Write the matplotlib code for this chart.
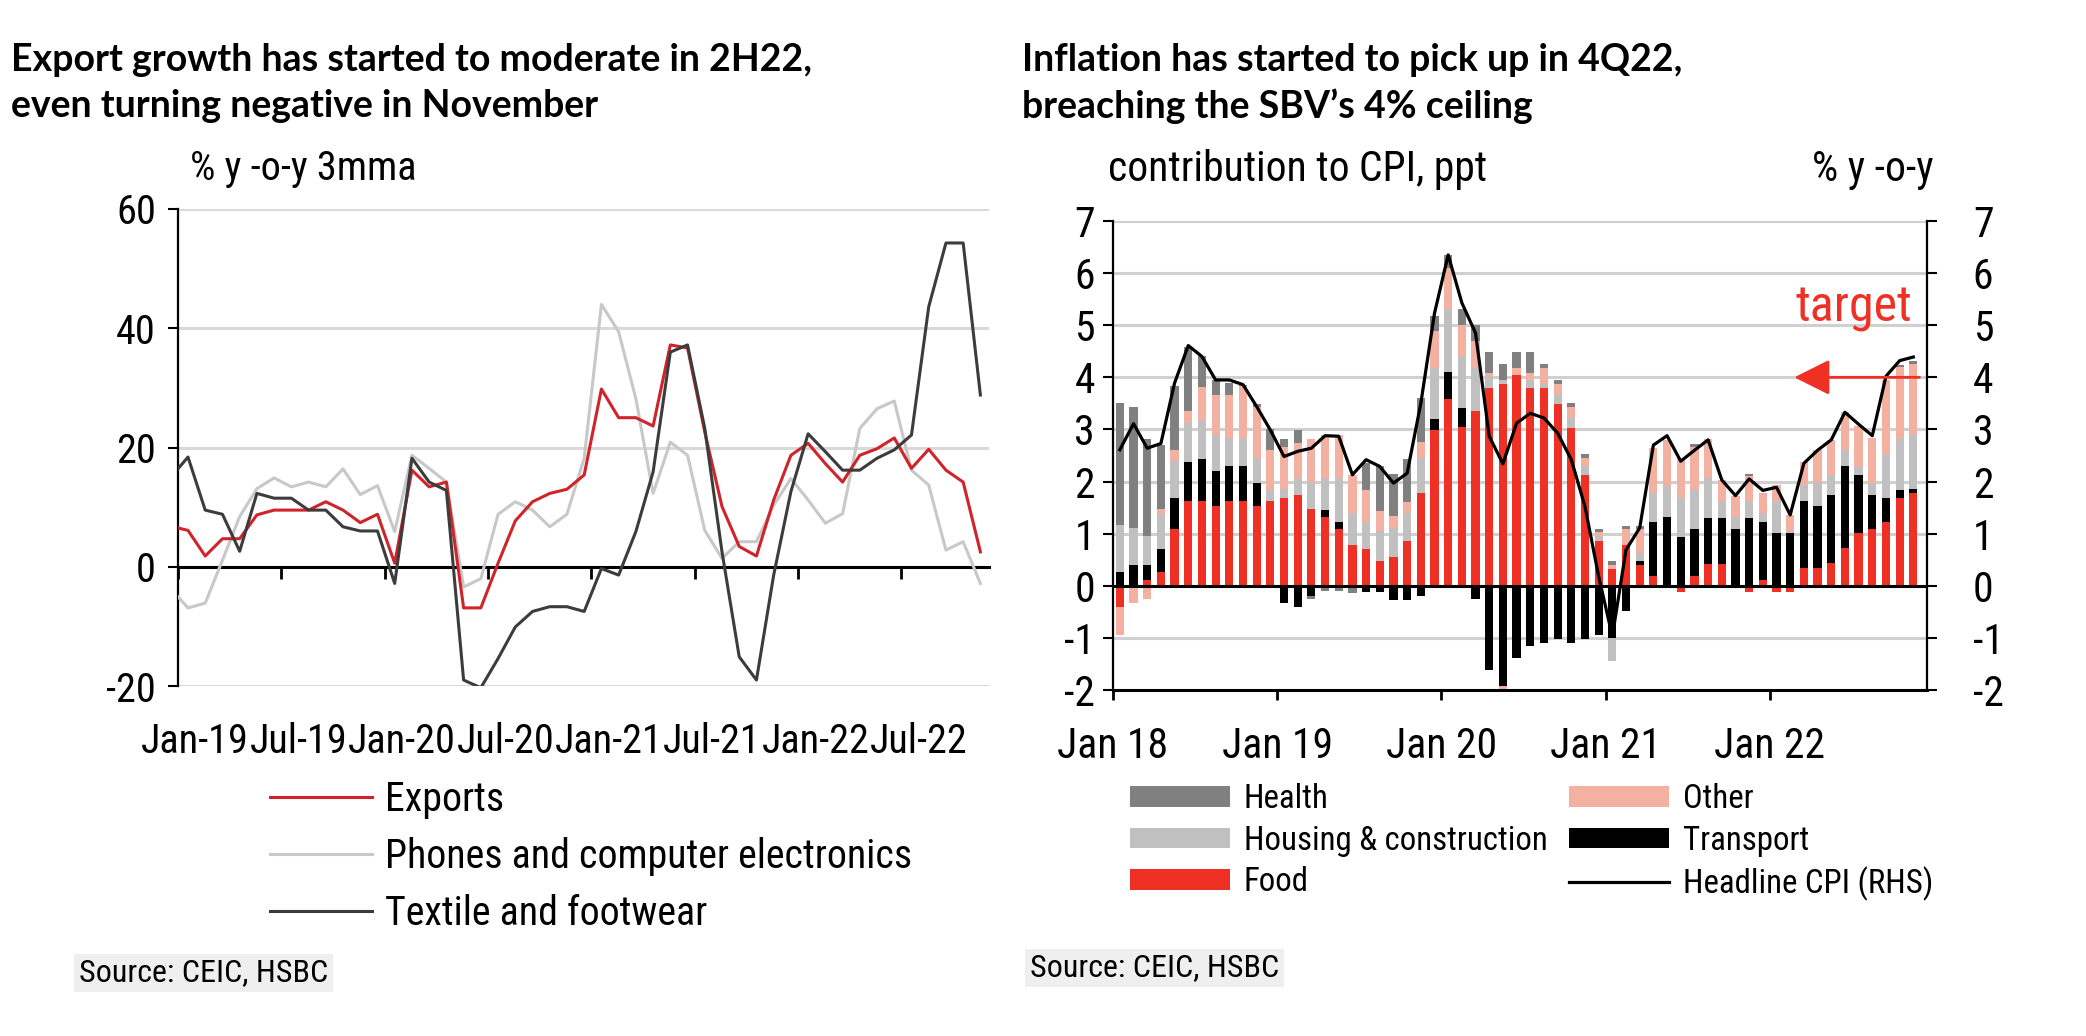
import numpy as np
import matplotlib
matplotlib.use("Agg")
import matplotlib.pyplot as plt
from matplotlib import font_manager as fm

# fonts: an Arial Narrow look-alike if one is installed, else Liberation Sans a bit smaller
avail = {f.name for f in fm.fontManager.ttflist}
NARROW, K = "Liberation Sans", 0.83
for name in ["Liberation Sans Narrow", "Arial Narrow", "Roboto Condensed"]:
    if name in avail:
        NARROW, K = name, 1.0
        break
TITLE = "Lato" if "Lato" in avail else "DejaVu Sans"
plt.rcParams["font.family"] = [NARROW, "DejaVu Sans"]
plt.rcParams["axes.unicode_minus"] = False

# ---- left chart data: % y-o-y 3mma, monthly ----
exp_labels = ["Jan-19", "Jul-19", "Jan-20", "Jul-20", "Jan-21", "Jul-21", "Jan-22", "Jul-22"]
exports = [6.8, 6.1, 1.8, 4.7, 4.7, 8.7, 9.5, 9.5, 9.5, 10.9, 9.5, 7.4, 8.8, 0.6, 16.2, 13.4,
           14.2, -6.9, -6.9, 0.6, 7.7, 10.9, 12.3, 13.0, 15.4, 29.8, 25.0, 25.0, 23.6, 37.2, 36.7, 22.6,
           10.1, 3.4, 1.8, 11.2, 18.7, 20.7, 17.3, 14.2, 18.7, 19.8, 21.6, 16.5, 19.7, 16.2, 14.2, 2.5]
phones = [-3.7, -6.9, -6.1, 1.1, 8.4, 13.1, 14.9, 13.4, 14.2, 13.4, 16.4, 12.1, 13.6, 5.9, 18.7, 16.5,
          14.2, -3.4, -2.0, 8.8, 10.9, 9.5, 6.7, 8.8, 18.2, 44.0, 39.4, 28.2, 12.3, 20.9, 18.7, 6.1,
          1.4, 4.2, 4.2, 10.3, 14.8, 11.2, 7.3, 8.9, 23.2, 26.5, 27.8, 16.2, 13.7, 2.8, 4.2, -2.8]
textile = [15.0, 18.4, 9.5, 8.8, 2.6, 12.3, 11.5, 11.5, 9.5, 9.5, 6.7, 6.0, 6.0, -2.8, 18.2, 14.2,
           12.8, -19.0, -20.3, -15.4, -10.1, -7.5, -6.7, -6.7, -7.5, -0.3, -1.4, 5.9, 15.9, 36.0, 37.2, 23.2,
           2.5, -15.1, -19.0, -1.4, 12.6, 22.3, 19.3, 16.2, 16.2, 18.2, 19.6, 22.1, 43.6, 54.3, 54.3, 28.8]

# ---- right chart data: contribution to CPI (ppt), Jan 18 - Nov 22 ----
cpi_labels = ["Jan 18", "Jan 19", "Jan 20", "Jan 21", "Jan 22"]
food = [-0.41, 0.0, 0.12, 0.26, 1.09, 1.62, 1.62, 1.54, 1.62, 1.62,
        1.54, 1.62, 1.68, 1.75, 1.47, 1.32, 1.09, 0.79, 0.70, 0.48,
        0.56, 0.85, 1.78, 2.98, 3.58, 3.05, 3.35, 3.79, 3.88, 4.04,
        3.79, 3.79, 3.49, 3.03, 2.13, 0.85, 0.32, 0.79, 0.40, 0.18,
        0.0, -0.11, 0.18, 0.42, 0.42, 0.0, -0.11, 0.12, -0.11, -0.11,
        0.34, 0.34, 0.44, 0.72, 1.02, 1.09, 1.23, 1.68, 1.78]
transport = [0.26, 0.40, 0.28, 0.44, 0.59, 0.75, 0.82, 0.67, 0.67, 0.67,
             0.44, 0.0, -0.33, -0.41, -0.20, 0.14, 0.14, -0.05, -0.11, -0.11,
             -0.27, -0.27, -0.19, 0.22, 0.53, 0.37, -0.26, -1.62, -1.92, -1.39,
             -1.16, -1.09, -1.02, -1.10, -1.02, -0.94, -1.00, -0.49, 0.08, 1.05,
             1.32, 0.93, 0.91, 0.88, 0.88, 1.09, 1.30, 1.10, 1.01, 1.01,
             1.28, 1.20, 1.31, 1.57, 1.11, 0.66, 0.45, 0.16, 0.08]
housing = [0.91, 0.71, 0.56, 0.68, 0.71, 0.75, 0.75, 0.69, 0.54, 0.54,
           0.47, 0.22, 0.18, 0.32, 0.53, 0.61, 0.84, 0.60, 0.53, 0.57,
           0.55, 0.54, 0.68, 0.98, 1.20, 0.98, 0.83, 0.23, 0.07, 0.0,
           0.16, 0.09, 0.18, 0.19, 0.16, 0.11, -0.45, 0.0, 0.15, 0.55,
           0.60, 0.75, 0.75, 0.77, 0.32, 0.23, 0.32, 0.17, 0.61, 0.05,
           0.32, 0.46, 0.38, 0.31, 0.15, 0.23, 0.85, 0.98, 1.04]
other = [-0.53, -0.33, -0.26, 0.09, 0.21, 0.23, 0.62, 0.77, 0.84, 1.00,
         0.99, 0.76, 0.81, 0.67, 0.82, 0.83, 0.83, 0.74, 0.61, 0.38,
         0.22, 0.21, 0.30, 0.70, 0.79, 0.61, 0.51, 0.07, -0.08, 0.14,
         0.14, 0.30, 0.21, 0.21, 0.16, 0.08, 0.08, 0.30, 0.45, 0.86,
         0.88, 0.77, 0.83, 0.75, 0.41, 0.41, 0.48, 0.39, 0.32, 0.30,
         0.43, 0.60, 0.67, 0.73, 0.78, 0.85, 1.42, 1.38, 1.36]
health = [2.34, 2.32, 1.86, 1.24, 1.23, 1.24, 0.59, 0.28, 0.22, 0.03,
          0.05, 0.40, 0.15, 0.24, -0.06, -0.10, -0.10, -0.08, 0.51, 0.87,
          0.82, 0.83, 0.85, 0.29, 0.25, 0.30, 0.32, 0.39, 0.31, 0.30,
          0.39, 0.08, 0.07, 0.08, 0.08, 0.05, 0.07, 0.06, 0.06, 0.0,
          0.0, 0.0, 0.05, 0.0, 0.0, 0.0, 0.04, 0.0, 0.0, 0.0,
          0.0, 0.0, 0.0, 0.0, 0.0, 0.0, 0.0, 0.04, 0.05]
cpi = [2.61, 3.11, 2.64, 2.73, 3.89, 4.61, 4.40, 3.95, 3.95, 3.86,
       3.44, 2.99, 2.48, 2.58, 2.64, 2.88, 2.87, 2.13, 2.42, 2.29,
       1.97, 2.16, 3.50, 5.23, 6.35, 5.43, 4.85, 2.87, 2.34, 3.12,
       3.31, 3.22, 2.93, 2.42, 1.52, 0.18, -0.97, 0.69, 1.11, 2.70,
       2.88, 2.39, 2.60, 2.80, 2.03, 1.73, 2.05, 1.83, 1.89, 1.36,
       2.35, 2.60, 2.80, 3.33, 3.10, 2.88, 4.02, 4.32, 4.39]

RED = "#ee3124"
W, H = 2086, 1036
fig = plt.figure(figsize=(W / 100, H / 100), dpi=100)


def fx(px):
    return px / W


def fy(py):
    return 1 - py / H


def pt2px(size):
    return size * 100 / 72


# ================= left chart =================
ax1 = fig.add_axes([fx(178), fy(686), (989 - 178) / W, (686 - 209) / H])
xm = np.arange(len(exports))
l_ph, = ax1.plot(xm, phones, color="#c8c8c8", lw=2.2, zorder=3)
l_exp, = ax1.plot(xm, exports, color="#d0232a", lw=2.2, zorder=3.1)
l_tx, = ax1.plot(xm, textile, color="#3c3c3c", lw=2.2, zorder=3.2)
ax1.set_xlim(0.42, 47.5)
ax1.set_ylim(-20, 60)
ax1.set_yticks([-20, 0, 20, 40, 60])
ax1.yaxis.grid(True, color="#d9d9d9", lw=2.2)
ax1.set_axisbelow(True)
ticks = 0.42 + 6 * np.arange(len(exp_labels))
ax1.set_xticks(ticks, minor=True)
ax1.set_xticks(ticks + 1.0)
ax1.set_xticklabels(exp_labels)
ax1.tick_params(axis="x", which="major", length=0, pad=112, labelsize=29 * K)
ax1.tick_params(axis="x", which="minor", length=8.5, width=2, direction="out", color="k")
ax1.tick_params(axis="y", length=7, width=1.5, pad=9, color="k", labelsize=29 * K)
for s in ["top", "right"]:
    ax1.spines[s].set_visible(False)
ax1.spines["bottom"].set_position(("data", 0))
ax1.spines["bottom"].set_linewidth(2.2)
ax1.spines["left"].set_linewidth(1.6)

fs1 = 28.7 * K
ax1.legend([l_exp, l_ph, l_tx], ["Exports", "Phones and computer electronics", "Textile and footwear"],
           loc="upper left", bbox_to_anchor=(fx(270), fy(780)), bbox_transform=fig.transFigure,
           frameon=False, fontsize=fs1, handlelength=102 / pt2px(fs1),
           handletextpad=13 / pt2px(fs1), labelspacing=0.45, borderpad=0, borderaxespad=0)

fig.text(fx(11), fy(60), "Export growth has started to moderate in 2H22,", family=TITLE,
         fontweight="bold", fontsize=27, va="center", ha="left")
fig.text(fx(11), fy(106), "even turning negative in November", family=TITLE,
         fontweight="bold", fontsize=27, va="center", ha="left")
fig.text(fx(190), fy(168), "% y -o-y 3mma", fontsize=29 * K, va="center", ha="left")
fig.text(fx(79), fy(973), "Source: CEIC, HSBC", fontsize=23 * K, va="center", ha="left",
         bbox=dict(boxstyle="square,pad=0.15", fc="#efefef", ec="none"))

# ================= right chart =================
ax2 = fig.add_axes([fx(1113), fy(690), 814 / W, 469 / H])
xb = np.arange(len(food)) + 0.5
pos_b = np.zeros(len(food))
neg_b = np.zeros(len(food))
bars = {}
for name, vals, col in [("Food", food, RED), ("Transport", transport, "#000000"),
                        ("Housing & construction", housing, "#c0c0c0"),
                        ("Other", other, "#f4b1a1"), ("Health", health, "#808080")]:
    v = np.array(vals)
    pos = np.where(v > 0, v, 0)
    neg = np.where(v < 0, v, 0)
    bars[name] = ax2.bar(xb, pos, 0.6, bottom=pos_b, color=col, zorder=2, linewidth=0)
    ax2.bar(xb, neg, 0.6, bottom=neg_b, color=col, zorder=2, linewidth=0)
    pos_b += pos
    neg_b += neg

ax2.set_xlim(0, 59.5)
ax2.set_ylim(-2, 7)
ax2.set_yticks(range(-2, 8))
ax2.yaxis.grid(True, color="#d0d0d0", lw=2.2)
ax2.set_axisbelow(True)
ax2.axhline(0, color="k", lw=2.2, zorder=2.6)
ax2.set_xticks([0, 12, 24, 36, 48])
ax2.set_xticklabels(cpi_labels)
ax2.tick_params(axis="x", length=7, width=2, pad=19, color="k", labelsize=30 * K)
ax2.tick_params(axis="y", length=7, width=1.5, pad=6, color="k", labelsize=30 * K)
for s in ["top", "right"]:
    ax2.spines[s].set_visible(False)
ax2.spines["bottom"].set_linewidth(2.2)
ax2.spines["left"].set_linewidth(1.6)

tw = ax2.twinx()
tw.set_ylim(-2, 7)
tw.set_yticks(range(-2, 8))
tw.tick_params(axis="y", length=7, width=1.5, pad=26, color="k", labelsize=30 * K)
for s in ["top", "left", "bottom"]:
    tw.spines[s].set_visible(False)
tw.spines["right"].set_linewidth(1.6)
l_cpi, = tw.plot(xb, cpi, color="k", lw=2.3, zorder=3)

tw.annotate("", xy=(49.8, 4), xytext=(58.95, 4),
            arrowprops=dict(arrowstyle="-|>,head_length=1.1,head_width=0.55", mutation_scale=20,
                            color=RED, lw=2, shrinkA=0, shrinkB=0))
tw.text(58.4, 5.33, "target", color=RED, ha="right", va="center", fontsize=36 * K)

fs2 = 23.7 * K
ax2.legend([bars["Health"], bars["Housing & construction"], bars["Food"],
            bars["Other"], bars["Transport"], l_cpi],
           ["Health", "Housing & construction", "Food", "Other", "Transport", "Headline CPI (RHS)"],
           ncol=2, loc="upper left", bbox_to_anchor=(fx(1130), fy(783)), bbox_transform=fig.transFigure,
           frameon=False, fontsize=fs2, handlelength=100 / pt2px(fs2), handleheight=19 / pt2px(fs2),
           handletextpad=14 / pt2px(fs2), labelspacing=0.29, columnspacing=0.66,
           borderpad=0, borderaxespad=0)

fig.text(fx(1022), fy(60), "Inflation has started to pick up in 4Q22,", family=TITLE,
         fontweight="bold", fontsize=27, va="center", ha="left")
fig.text(fx(1022), fy(106), "breaching the SBV\u2019s 4% ceiling", family=TITLE,
         fontweight="bold", fontsize=27, va="center", ha="left")
fig.text(fx(1108), fy(170), "contribution to CPI, ppt", fontsize=30 * K, va="center", ha="left")
fig.text(fx(1934), fy(170), "% y -o-y", fontsize=30 * K, va="center", ha="right")
fig.text(fx(1030), fy(968), "Source: CEIC, HSBC", fontsize=23 * K, va="center", ha="left",
         bbox=dict(boxstyle="square,pad=0.15", fc="#efefef", ec="none"))

fig.savefig("out.png", dpi=100)
